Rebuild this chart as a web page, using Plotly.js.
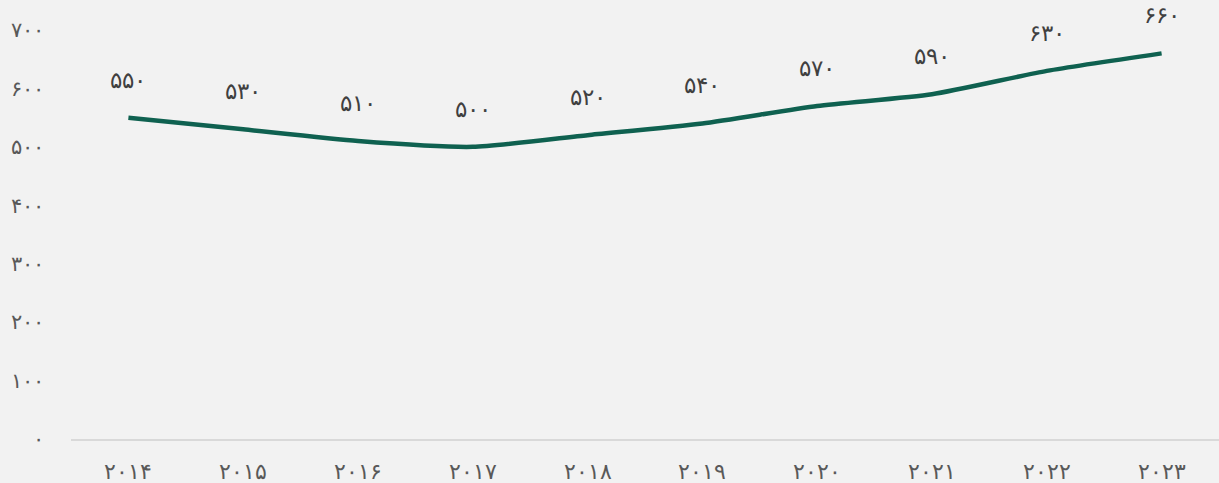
<!DOCTYPE html>
<html>
<head>
<meta charset="utf-8">
<script src="https://cdn.plot.ly/plotly-3.0.1.min.js"></script>
<style>html,body{margin:0;padding:0;background:#f2f2f2;}#chart{width:1219px;height:483px;}</style>
</head>
<body>
<div id="chart"></div>
<script>
const years = [2014, 2015, 2016, 2017, 2018, 2019, 2020, 2021, 2022, 2023];
const values = [550, 530, 510, 500, 520, 540, 570, 590, 630, 660];
const yTicks = [0, 100, 200, 300, 400, 500, 600, 700];

const faDigits = ['۰','۱','۲','۳','۴','۵','۶','۷','۸','۹'];
function toFa(n) { return String(n).replace(/[0-9]/g, d => faDigits[+d]); }

const xCats = years.map(toFa);
const FONT = '"DejaVu Sans", sans-serif';

const trace = {
  x: xCats,
  y: values,
  type: 'scatter',
  mode: 'lines',
  line: { color: '#0f6150', width: 4.5, shape: 'spline', smoothing: 0.6 },
  hoverinfo: 'skip'
};

const annotations = values.map((v, i) => ({
  x: xCats[i], y: v, text: toFa(v), showarrow: false,
  yshift: 38, font: { family: FONT, size: 23, color: '#404040', weight: 200 }
}));

const layout = {
  width: 1219, height: 483,
  paper_bgcolor: '#f2f2f2', plot_bgcolor: '#f2f2f2',
  margin: { l: 71, r: 0, t: 30, b: 44 },
  showlegend: false,
  font: { family: FONT, color: '#595959' },
  xaxis: {
    type: 'category', range: [-0.5, years.length - 0.5],
    showgrid: false, zeroline: false,
    showline: true, linecolor: '#d9d9d9', linewidth: 1.5,
    ticks: '', ticklabelstandoff: 12,
    tickfont: { family: FONT, size: 22, color: '#595959', weight: 200 }
  },
  yaxis: {
    range: [0, 700], showgrid: false, zeroline: false, showline: false,
    tickvals: yTicks, ticktext: yTicks.map(toFa), ticks: '',
    ticklabelstandoff: 26,
    tickfont: { family: FONT, size: 21, color: '#595959', weight: 200 }
  },
  annotations: annotations
};

Plotly.newPlot('chart', [trace], layout, { staticPlot: true, displayModeBar: false });
</script>
</body>
</html>
